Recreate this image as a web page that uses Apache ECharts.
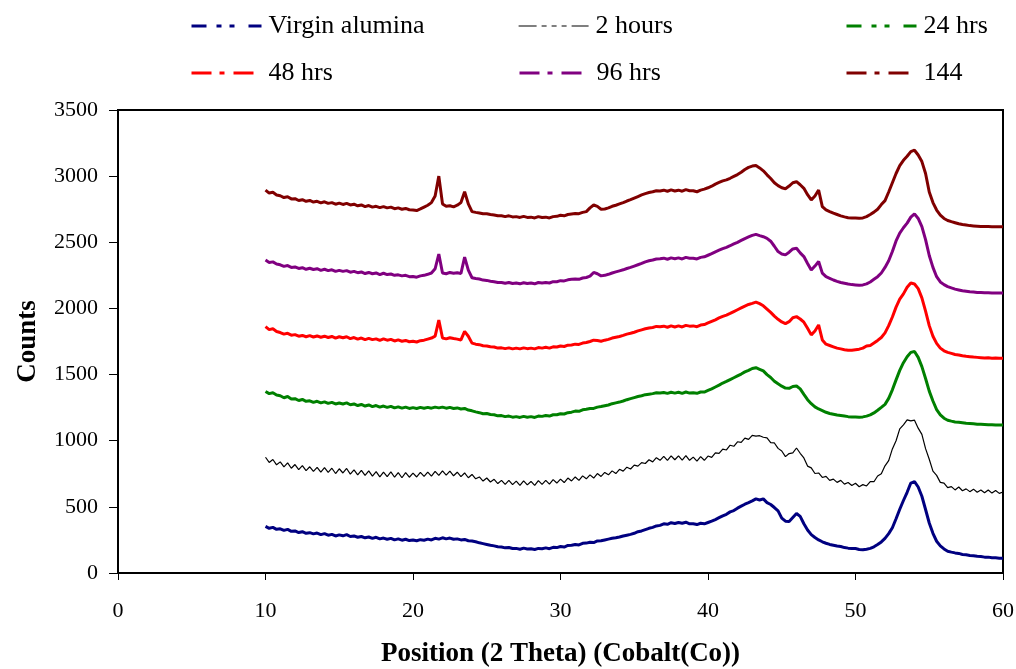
<!DOCTYPE html>
<html>
<head>
<meta charset="utf-8">
<script src="https://cdn.jsdelivr.net/npm/echarts@6/dist/echarts.min.js"></script>
<style>
html,body{margin:0;padding:0;background:#fff;}
#chart{width:1016px;height:669px;}
</style>
</head>
<body>
<div id="chart"></div>
<script>
// 2-theta positions (degrees)
const theta = [
10,10.25,10.5,10.75,11,11.25,11.5,11.75,12,12.25,12.5,12.75,13,13.25,13.5,13.75,14,14.25,14.5,14.75,
15,15.25,15.5,15.75,16,16.25,16.5,16.75,17,17.25,17.5,17.75,18,18.25,18.5,18.75,19,19.25,19.5,19.75,
20,20.25,20.5,20.75,21,21.25,21.5,21.75,22,22.25,22.5,22.75,23,23.25,23.5,23.75,24,24.25,24.5,24.75,
25,25.25,25.5,25.75,26,26.25,26.5,26.75,27,27.25,27.5,27.75,28,28.25,28.5,28.75,29,29.25,29.5,29.75,
30,30.25,30.5,30.75,31,31.25,31.5,31.75,32,32.25,32.5,32.75,33,33.25,33.5,33.75,34,34.25,34.5,34.75,
35,35.25,35.5,35.75,36,36.25,36.5,36.75,37,37.25,37.5,37.75,38,38.25,38.5,38.75,39,39.25,39.5,39.75,
40,40.25,40.5,40.75,41,41.25,41.5,41.75,42,42.25,42.5,42.75,43,43.25,43.5,43.75,44,44.25,44.5,44.75,
45,45.25,45.5,45.75,46,46.25,46.5,46.75,47,47.25,47.5,47.75,48,48.25,48.5,48.75,49,49.25,49.5,49.75,
50,50.25,50.5,50.75,51,51.25,51.5,51.75,52,52.25,52.5,52.75,53,53.25,53.5,53.75,54,54.25,54.5,54.75,
55,55.25,55.5,55.75,56,56.25,56.5,56.75,57,57.25,57.5,57.75,58,58.25,58.5,58.75,59,59.25,59.5,59.75,
60];

const virgin = [
352,338,345,330, 334,322,330,315, 318,306,312,300, 305,296,302,290, 298,286,292,280,
288,281,290,276, 280,270,276,266, 272,262,270,258, 264,255,262,250, 258,248,255,245,
250,244,252,248, 256,250,262,256, 266,258,264,255, 258,250,254,244, 242,236,228,222,
216,210,205,198, 196,190,193,185, 186,180,188,182, 183,178,186,184, 190,184,194,192,
200,196,208,210, 216,212,224,226, 232,230,242,244, 250,256,262,266, 272,280,286,292,
300,312,318,328, 338,345,356,360, 372,368,380,374, 382,376,384,372, 372,366,376,372,
382,392,404,418, 432,444,462,472, 490,505,520,532, 545,560,552,560, 532,518,495,470,
415,392,390,420, 450,428,372,325, 290,268,250,236, 225,216,210,204, 200,192,188,186,
185,178,175,180, 186,198,215,235, 262,298,342,410, 482,548,610,680, 690,650,580,480,
378,300,240,205, 182,165,158,152, 148,140,138,132, 130,126,124,120, 120,116,115,112,
112];

const hours2 = [
875,836,858,818, 840,802,832,792, 820,782,812,774, 803,768,798,762, 796,760,792,752,
788,756,790,748, 780,742,776,738, 772,732,766,726, 762,728,764,724, 758,720,758,724,
755,726,760,730, 762,732,768,738, 772,740,770,735, 762,728,756,720, 745,712,726,695,
718,688,708,676, 700,670,700,668, 695,662,696,666, 692,662,698,670, 700,672,706,680,
710,684,718,696, 726,700,734,712, 742,718,752,730, 760,742,772,752, 784,770,800,786,
816,808,834,828, 856,840,872,852, 882,852,886,856, 886,854,888,852, 876,846,880,852,
884,874,908,904, 936,930,966,958, 992,988,1020,1010, 1040,1035,1038,1026, 1022,986,983,942,
922,880,903,908, 945,905,870,808, 795,752,756,722, 730,700,710,685, 700,672,684,662,
678,652,668,658, 690,690,733,750, 810,850,938,1000, 1090,1120,1158,1150, 1155,1095,1048,940,
860,770,738,685, 680,645,653,628, 650,622,636,615, 634,610,627,606, 628,604,623,602,
612];

const hrs24 = [
1372,1356,1362,1345, 1340,1325,1334,1315, 1318,1304,1312,1298, 1302,1290,1298,1286, 1294,1282,1290,1278,
1285,1278,1286,1272, 1278,1266,1274,1262, 1270,1258,1266,1254, 1262,1252,1260,1248, 1256,1246,1254,1244,
1250,1244,1252,1246, 1252,1246,1254,1248, 1254,1246,1252,1244, 1248,1240,1244,1232, 1226,1218,1212,1204,
1206,1198,1196,1188, 1190,1182,1186,1178, 1182,1176,1184,1178, 1182,1176,1186,1184, 1190,1186,1196,1196,
1204,1202,1212,1216, 1224,1222,1234,1238, 1244,1244,1254,1258, 1264,1270,1280,1286, 1292,1300,1310,1318,
1326,1334,1340,1348, 1352,1356,1362,1360, 1364,1358,1366,1360, 1366,1358,1368,1360, 1362,1358,1368,1368,
1380,1392,1406,1420, 1436,1448,1462,1476, 1490,1504,1520,1532, 1546,1552,1540,1528, 1500,1478,1450,1430,
1412,1398,1396,1410, 1414,1392,1350,1310, 1280,1256,1240,1228, 1215,1206,1200,1194, 1190,1186,1182,1180,
1180,1178,1180,1186, 1195,1210,1230,1252, 1275,1320,1385,1460, 1532,1590,1635,1668, 1675,1630,1560,1470,
1375,1300,1235,1195, 1170,1155,1148,1142, 1140,1136,1132,1130, 1128,1125,1124,1122, 1120,1120,1118,1118,
1118];

const hrs48 = [
1862,1840,1846,1826, 1818,1806,1812,1798, 1802,1790,1796,1786, 1794,1784,1792,1782, 1790,1780,1788,1776,
1786,1778,1786,1772, 1780,1768,1776,1764, 1774,1764,1770,1758, 1770,1760,1766,1754, 1762,1752,1758,1748,
1752,1746,1756,1760, 1768,1776,1790,1912, 1776,1770,1778,1772, 1768,1762,1826,1790, 1738,1730,1726,1718,
1716,1710,1708,1700, 1702,1696,1702,1694, 1700,1694,1702,1696, 1700,1694,1704,1700, 1706,1700,1710,1708,
1716,1712,1722,1724, 1730,1728,1738,1742, 1750,1760,1758,1752, 1760,1766,1776,1782, 1788,1796,1806,1812,
1820,1830,1838,1846, 1852,1856,1864,1862, 1866,1858,1868,1860, 1868,1860,1872,1866, 1868,1862,1874,1878,
1890,1902,1914,1928, 1940,1950,1962,1976, 1990,2004,2018,2030, 2038,2048,2036,2020, 1995,1970,1942,1918,
1898,1885,1900,1930, 1938,1920,1896,1850, 1800,1830,1875,1762, 1730,1720,1710,1700, 1694,1688,1684,1684,
1688,1692,1700,1716, 1720,1738,1758,1780, 1815,1870,1935,2010, 2070,2110,2160,2192, 2185,2150,2080,1980,
1870,1790,1736,1700, 1680,1668,1660,1652, 1648,1642,1638,1635, 1632,1630,1628,1626, 1627,1624,1625,1624,
1624];

const hrs96 = [
2366,2348,2352,2336, 2330,2318,2324,2310, 2314,2302,2308,2296, 2304,2294,2300,2288, 2296,2286,2292,2280,
2288,2280,2286,2274, 2280,2270,2276,2264, 2272,2262,2268,2256, 2266,2256,2260,2250, 2254,2246,2250,2240,
2242,2236,2246,2250, 2258,2268,2300,2411, 2268,2262,2272,2266, 2270,2264,2388,2290, 2232,2226,2222,2214,
2212,2206,2202,2196, 2196,2190,2196,2188, 2192,2186,2194,2188, 2192,2186,2196,2192, 2196,2192,2202,2202,
2210,2208,2216,2220, 2222,2220,2230,2234, 2244,2272,2262,2246, 2250,2258,2268,2276, 2284,2292,2302,2310,
2320,2330,2340,2352, 2360,2366,2374,2376, 2380,2372,2382,2376, 2382,2374,2386,2380, 2380,2374,2386,2390,
2402,2414,2428,2440, 2452,2462,2474,2488, 2500,2514,2528,2540, 2552,2560,2550,2542, 2530,2508,2470,2430,
2412,2405,2425,2450, 2455,2420,2392,2340, 2290,2320,2355,2267, 2240,2228,2215,2205, 2196,2190,2184,2180,
2178,2176,2178,2186, 2200,2220,2240,2268, 2310,2360,2430,2510, 2570,2610,2645,2690, 2715,2680,2618,2520,
2400,2310,2240,2200, 2180,2165,2155,2146, 2140,2134,2130,2126, 2124,2121,2120,2118, 2118,2116,2117,2116,
2116];

const hrs144 = [
2895,2872,2878,2858, 2852,2838,2844,2828, 2830,2816,2822,2810, 2816,2804,2810,2798, 2806,2794,2800,2788,
2796,2786,2794,2782, 2788,2776,2782,2770, 2778,2766,2772,2762, 2770,2760,2766,2754, 2760,2750,2756,2746,
2744,2740,2752,2766, 2780,2800,2850,3000, 2790,2772,2776,2768, 2780,2800,2882,2790, 2732,2726,2722,2716,
2716,2710,2706,2700, 2700,2694,2700,2692, 2694,2688,2696,2688, 2690,2684,2694,2688, 2690,2684,2694,2696,
2704,2700,2710,2714, 2718,2716,2726,2732, 2760,2782,2772,2750, 2752,2760,2772,2780, 2790,2800,2812,2822,
2834,2846,2858,2868, 2876,2882,2890,2888, 2894,2886,2896,2888, 2894,2886,2898,2890, 2890,2882,2894,2902,
2912,2924,2940,2952, 2964,2972,2984,2998, 3012,3030,3050,3066, 3076,3080,3062,3040, 3010,2982,2950,2928,
2912,2905,2925,2950, 2958,2935,2908,2860, 2820,2850,2895,2770, 2745,2732,2720,2710, 2700,2692,2686,2684,
2684,2682,2684,2694, 2710,2728,2750,2785, 2815,2880,2950,3020, 3080,3120,3150,3185, 3196,3160,3110,3020,
2880,2800,2744,2705, 2680,2665,2656,2648, 2640,2634,2630,2626, 2624,2622,2620,2620, 2619,2618,2618,2617,
2617];

const seriesNames = ['Virgin alumina', '2 hours', '24 hrs', '48 hrs', '96 hrs', '144'];
const seriesValues = [virgin, hours2, hrs24, hrs48, hrs96, hrs144];
const xTicks = [0, 10, 20, 30, 40, 50, 60];
const yTicks = [0, 500, 1000, 1500, 2000, 2500, 3000, 3500];

const colors = ['#000080', '#000000', '#008000', '#FF0000', '#800080', '#800000'];
const widths = [3, 1.2, 3, 3, 3, 3];
const legendDash = [
  [15, 10, 5, 8, 5, 14],
  [18, 5, 5, 5, 5, 5, 5, 5],
  [15, 10, 5, 8, 5, 14],
  [20, 8, 5, 9],
  [20, 8, 5, 9],
  [20, 8, 5, 9]
];
const legendPos = [[190, 13], [518, 13], [845, 13], [190, 60], [518, 60], [845, 60]];

const FONT = '"Liberation Serif", "Times New Roman", serif';

const series = seriesNames.map((name, k) => ({
  name: name,
  type: 'line',
  symbol: 'none',
  showSymbol: false,
  smooth: false,
  silent: true,
  data: theta.map((t, i) => [t, seriesValues[k][i]]),
  lineStyle: { color: colors[k], width: widths[k], type: 'solid' },
  itemStyle: { color: colors[k] },
  z: 2 + k
}));

const legends = seriesNames.map((name, k) => ({
  left: legendPos[k][0],
  top: legendPos[k][1],
  padding: 0,
  orient: 'horizontal',
  itemWidth: 70,
  itemHeight: 14,
  selectedMode: false,
  textStyle: { fontFamily: FONT, fontSize: 26, color: '#000', padding: [0, 0, 0, 2] },
  data: [{
    name: name,
    itemStyle: { opacity: 0, color: 'rgba(0,0,0,0)', borderWidth: 0 },
    lineStyle: { type: legendDash[k], width: widths[k] === 3 ? 3 : 1.2, color: colors[k], opacity: 1 }
  }]
}));

const chart = echarts.init(document.getElementById('chart'), null, { renderer: 'canvas' });
chart.setOption({
  animation: false,
  backgroundColor: '#ffffff',
  legend: legends,
  grid: {
    left: 118, right: 13, top: 110, bottom: 96,
    show: true, borderColor: '#000', borderWidth: 2, backgroundColor: 'transparent',
    containLabel: false,
    outerBoundsMode: 'none'
  },
  xAxis: {
    type: 'value',
    min: xTicks[0], max: xTicks[xTicks.length - 1], interval: 10,
    name: 'Position (2 Theta) (Cobalt(Co))',
    nameLocation: 'middle',
    nameGap: 68,
    nameTextStyle: { fontFamily: FONT, fontSize: 27, fontWeight: 'bold', color: '#000' },
    splitLine: { show: false },
    axisLine: { show: true, onZero: false, lineStyle: { color: '#000', width: 2 } },
    axisTick: { show: true, length: 7, lineStyle: { color: '#000', width: 1 } },
    axisLabel: { fontFamily: FONT, fontSize: 22, color: '#000', margin: 27,
      formatter: v => xTicks.indexOf(v) >= 0 ? String(v) : '' }
  },
  yAxis: {
    type: 'value',
    min: yTicks[0], max: yTicks[yTicks.length - 1], interval: 500,
    name: 'Counts',
    nameLocation: 'middle',
    nameGap: 76,
    nameRotate: 90,
    nameTextStyle: { fontFamily: FONT, fontSize: 27, fontWeight: 'bold', color: '#000' },
    splitLine: { show: false },
    axisLine: { show: true, lineStyle: { color: '#000', width: 2 } },
    axisTick: { show: true, length: 9, lineStyle: { color: '#000', width: 1 } },
    axisLabel: { fontFamily: FONT, fontSize: 22, color: '#000', margin: 20,
      formatter: v => yTicks.indexOf(v) >= 0 ? String(v) : '' }
  },
  series: series
});
</script>
</body>
</html>
